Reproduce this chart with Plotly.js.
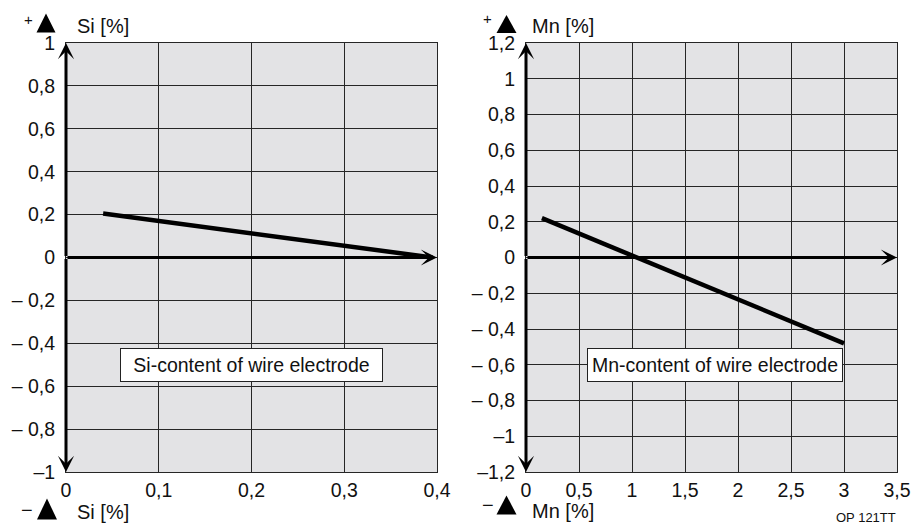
<!DOCTYPE html>
<html>
<head>
<meta charset="utf-8">
<script src="https://cdn.plot.ly/plotly-3.0.1.min.js"></script>
<style>html,body{margin:0;padding:0;background:#fff}#chart{width:911px;height:527px}</style>
</head>
<body>
<div id="chart"></div>
<script>
// ---- data ----
const siX = [0.04, 0.395];
const siY = [0.205, 0.0];
const mnX = [0.15, 3.0];
const mnY = [0.22, -0.48];

const siXTickVals = [0, 0.1, 0.2, 0.3, 0.4];
const siXTickText = ["0", "0,1", "0,2", "0,3", "0,4"];
const siYTickVals = [1, 0.8, 0.6, 0.4, 0.2, 0, -0.2, -0.4, -0.6, -0.8, -1];
const siYTickText = ["1", "0,8", "0,6", "0,4", "0,2", "0", "– 0,2", "– 0,4", "– 0,6", "– 0,8", "–1"];

const mnXTickVals = [0, 0.5, 1, 1.5, 2, 2.5, 3, 3.5];
const mnXTickText = ["0", "0,5", "1", "1,5", "2", "2,5", "3", "3,5"];
const mnYTickVals = [1.2, 1, 0.8, 0.6, 0.4, 0.2, 0, -0.2, -0.4, -0.6, -0.8, -1, -1.2];
const mnYTickText = ["1,2", "1", "0,8", "0,6", "0,4", "0,2", "0", "– 0,2", "– 0,4", "– 0,6", "– 0,8", "–1", "–1,2"];

const siLabel = "Si-content of wire electrode";
const mnLabel = "Mn-content of wire electrode";
const siAxisName = "Si [%]";
const mnAxisName = "Mn [%]";
const codeLabel = "OP 121TT";

// ---- layout helpers ----
const W = 911, H = 527;
const FONT = "Liberation Sans, Arial, Helvetica, sans-serif";
const GRID = "#262626";
const BG = "#e3e3e5";
const TICK = 19.5;

function xAx(dom, range, vals, text) {
  return {
    domain: dom, range: range, tickmode: "array", tickvals: vals, ticktext: text,
    showgrid: true, gridcolor: GRID, gridwidth: 1, zeroline: false,
    showline: true, mirror: true, linecolor: GRID, linewidth: 1,
    ticks: "outside", ticklen: 1, tickcolor: "rgba(0,0,0,0)",
    tickfont: {family: FONT, size: TICK, color: "#111"}, fixedrange: true
  };
}
function yAx(dom, range, vals, text) {
  return {
    domain: dom, range: range, tickmode: "array", tickvals: vals, ticktext: text,
    showgrid: true, gridcolor: GRID, gridwidth: 1, zeroline: false,
    showline: true, mirror: true, linecolor: GRID, linewidth: 1,
    ticks: "outside", ticklen: 6, tickcolor: "rgba(0,0,0,0)",
    tickfont: {family: FONT, size: TICK, color: "#111"}, fixedrange: true
  };
}

const yDom = [1 - 472 / H, 1 - 43 / H];

const traces = [
  {x: siX, y: siY, xaxis: "x", yaxis: "y", mode: "lines", line: {color: "#000", width: 4.5}, hoverinfo: "skip"},
  {x: mnX, y: mnY, xaxis: "x2", yaxis: "y2", mode: "lines", line: {color: "#000", width: 4.5}, hoverinfo: "skip"}
];

function arrow(xref, yref, x0, y0, x1, y1) {
  return {xref: xref, yref: yref, axref: xref, ayref: yref, x: x1, y: y1, ax: x0, ay: y0,
    text: "", showarrow: true, arrowhead: 3, arrowwidth: 3, arrowsize: 0.9, arrowcolor: "#000", standoff: 0, startstandoff: 0};
}
function ptxt(x, y, text, size, anchor, h) {
  const a = {xref: "paper", yref: "paper", x: x / W, y: 1 - y / H, text: text, showarrow: false,
    xanchor: anchor || "left", yanchor: "middle", font: {family: FONT, size: size, color: "#111"}};
  if (h) a.height = h;
  return a;
}
// filled triangle symbol (▲) drawn as a shape, given centre and size in pixels
function triShape(cx, cy, w, h) {
  const px = v => (v / W).toFixed(5), py = v => (1 - v / H).toFixed(5);
  const path = "M" + px(cx - w / 2) + "," + py(cy + h / 2) +
               " L" + px(cx + w / 2) + "," + py(cy + h / 2) +
               " L" + px(cx) + "," + py(cy - h / 2) + " Z";
  return {type: "path", xref: "paper", yref: "paper", path: path,
    fillcolor: "#000", line: {width: 0}, layer: "above"};
}

const annotations = [
  arrow("x", "y", 0, 0, 0.4, 0),
  arrow("x", "y", 0, 0, 0, 1),
  arrow("x", "y", 0, 0, 0, -1),
  arrow("x2", "y2", 0, 0, 3.5, 0),
  arrow("x2", "y2", 0, 0, 0, 1.2),
  arrow("x2", "y2", 0, 0, 0, -1.2),
  {xref: "x", yref: "y", x: 0.2, y: -0.5, text: siLabel, showarrow: false, bgcolor: "#fff",
    bordercolor: "#222", borderwidth: 1, borderpad: 3, width: 255, height: 26,
    font: {family: FONT, size: TICK, color: "#111"}},
  {xref: "x2", yref: "y2", x: 1.78, y: -0.6, text: mnLabel, showarrow: false, bgcolor: "#fff",
    bordercolor: "#222", borderwidth: 1, borderpad: 3, width: 248, height: 26,
    font: {family: FONT, size: TICK, color: "#111"}},
  // axis names
  ptxt(28, 19, "+", 15, "center", 12), ptxt(75, 26, siAxisName, 20),
  ptxt(27, 510, "−", 20, "center", 14), ptxt(75, 512, siAxisName, 20),
  ptxt(488, 18, "+", 15, "center", 12), ptxt(530, 26, mnAxisName, 20),
  ptxt(488, 505, "−", 20, "center", 14), ptxt(530, 511, mnAxisName, 20),
  ptxt(898, 517, codeLabel, 13, "right")
];

const shapes = [
  triShape(46, 23, 19, 19),
  triShape(47, 509, 20, 21),
  triShape(506.5, 24, 20, 18),
  triShape(506.5, 505, 20, 19)
];

const layout = {
  width: W, height: H, margin: {l: 0, r: 0, t: 0, b: 0},
  paper_bgcolor: "#fff", plot_bgcolor: BG, showlegend: false,
  xaxis: Object.assign(xAx([66 / W, 437 / W], [0, 0.4], siXTickVals, siXTickText), {anchor: "y"}),
  yaxis: Object.assign(yAx(yDom, [-1, 1], siYTickVals, siYTickText), {anchor: "x"}),
  xaxis2: Object.assign(xAx([526 / W, 897 / W], [0, 3.5], mnXTickVals, mnXTickText), {anchor: "y2"}),
  yaxis2: Object.assign(yAx(yDom, [-1.2, 1.2], mnYTickVals, mnYTickText), {anchor: "x2"}),
  annotations: annotations,
  shapes: shapes
};

Plotly.newPlot("chart", traces, layout, {staticPlot: true, displayModeBar: false});
</script>
</body>
</html>
